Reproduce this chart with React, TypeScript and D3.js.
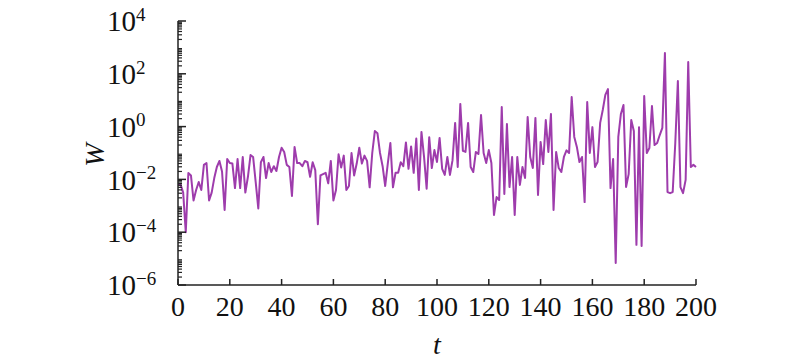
import React from 'react';
import * as d3 from 'd3';

// time steps 0..200, values as log10(W)
const log10W = [
  -2.2, -2.2, -2.5, -4.0, -1.76, -1.85, -2.8, -2.4, -2.1, -2.4,
  -1.45, -1.38, -2.8, -2.5, -1.95, -1.53, -1.3, -1.7, -3.16, -1.23,
  -1.38, -1.4, -2.33, -1.23, -2.33, -1.15, -2.5, -1.9, -1.08, -1.15,
  -2.1, -3.1, -1.35, -1.15, -1.95, -1.38, -1.72, -1.5, -1.68, -1.15,
  -0.8, -0.96, -1.45, -1.53, -2.63, -0.77, -1.38, -1.38, -1.5, -1.3,
  -1.35, -1.9, -1.35, -1.65, -3.7, -1.85, -1.8, -1.75, -2.15, -1.3,
  -2.8, -2.4, -1.05, -1.55, -1.1, -2.4, -2.25, -1.0, -1.85, -1.4,
  -0.8, -1.4, -1.1, -1.3, -2.3, -1.0, -0.17, -0.25, -1.0, -1.5,
  -2.25, -1.4, -0.62, -2.3, -1.75, -1.75, -1.35, -1.5, -0.6, -1.6,
  -0.75, -1.75, -0.45, -2.4, -0.2, -1.15, -2.35, -0.4, -1.57, -0.89,
  -1.34, -0.43, -1.6, -1.83, -1.15, -1.83, -1.27, 0.14, -1.53, 0.86,
  -0.92, -0.96, 0.14, -1.53, -1.72, -0.96, -1.04, 0.44, -1.0, -1.38,
  -0.89, -1.38, -3.35, -2.67, -2.78, 0.74, -2.55, 0.1, -2.29, -1.15,
  -3.35, -1.15, -2.21, -1.53, -1.95, 0.36, -1.15, -1.57, 0.33, -2.59,
  -0.58, -1.42, 0.25, -0.96, 0.48, -3.16, -0.96, -1.57, -1.72, -1.15,
  -0.9, -1.0, 1.12, -0.39, -0.77, -1.34, -1.15, -2.86, 0.93, -1.0,
  -0.02, -1.53, -1.34, 0.14, 0.63, 1.2, 1.42, -2.33, -1.23, -5.17,
  -0.39, 0.48, 0.82, -2.29, -1.8, 0.25, -0.17, -4.48, -0.02, -4.52,
  1.16, -1.0, -0.81, 0.78, -0.7, -0.62, -0.32, -0.05, 2.79, -2.48,
  -2.52, -2.48, -0.62, 1.73, -2.29, -2.52, -2.02, 2.45, -1.53, -1.45,
  -1.53,
];

const xTicks = [0, 20, 40, 60, 80, 100, 120, 140, 160, 180, 200];
const yExponents = [-6, -4, -2, 0, 2, 4];

const font = '"Liberation Serif", "DejaVu Serif", serif';

export default function App() {
  const width = 800;
  const height = 361;
  const left = 178, right = 696, top = 21, bottom = 285;

  const x = d3.scaleLinear().domain([0, 200]).range([left, right]);
  const y = d3.scaleLog().domain([1e-6, 1e4]).range([bottom, top]);

  const points = log10W.map((v, i) => ({ t: i, w: Math.pow(10, v) }));
  const line = d3.line<{ t: number; w: number }>()
    .x(d => x(d.t))
    .y(d => y(d.w));

  // minor ticks 2..9 in each decade
  const minor: number[] = [];
  for (let e = -6; e < 4; e++) {
    for (let k = 2; k <= 9; k++) minor.push(k * Math.pow(10, e));
  }

  return (
    <svg width={width} height={height} style={{ position: 'absolute', left: 0, top: 0 }}>
      <rect width={width} height={height} fill="#fff" />
      <path d={line(points) ?? ''} fill="none" stroke="#9e3cac" strokeWidth={2} strokeLinejoin="round" />

      {/* axes */}
      <line x1={left} x2={left} y1={top} y2={bottom} stroke="#222" strokeWidth={1.5} />
      <line x1={left} x2={right} y1={bottom} y2={bottom} stroke="#222" strokeWidth={1.5} />

      {minor.map((m, i) => (
        <line key={'m' + i} x1={left} x2={left + 4} y1={y(m)} y2={y(m)} stroke="#222" strokeWidth={1.2} />
      ))}
      {yExponents.map(e => (
        <g key={'y' + e}>
          <line x1={left} x2={left + 8} y1={y(Math.pow(10, e))} y2={y(Math.pow(10, e))} stroke="#222" strokeWidth={1.5} />
          <text x={107} y={y(Math.pow(10, e))} dy="0.35em" textAnchor="start" fontFamily={font} fontSize={29} fill="#111">
            10<tspan dy="-0.55em" fontSize={19}>{e < 0 ? '\u2212' + Math.abs(e) : e}</tspan>
          </text>
        </g>
      ))}

      {xTicks.map(t => (
        <g key={'x' + t}>
          <line x1={x(t)} x2={x(t)} y1={bottom} y2={bottom - 6} stroke="#222" strokeWidth={1.5} />
          <text x={x(t)} y={bottom + 31} textAnchor="middle" fontFamily={font} fontSize={28} fill="#111">{t}</text>
        </g>
      ))}

      <text x={437} y={354} textAnchor="middle" fontFamily={font} fontStyle="italic" fontSize={28} fill="#111">t</text>
      <text transform="translate(104,155) rotate(-90)" textAnchor="middle" fontFamily={font} fontStyle="italic" fontSize={28} fill="#111">W</text>
    </svg>
  );
}
